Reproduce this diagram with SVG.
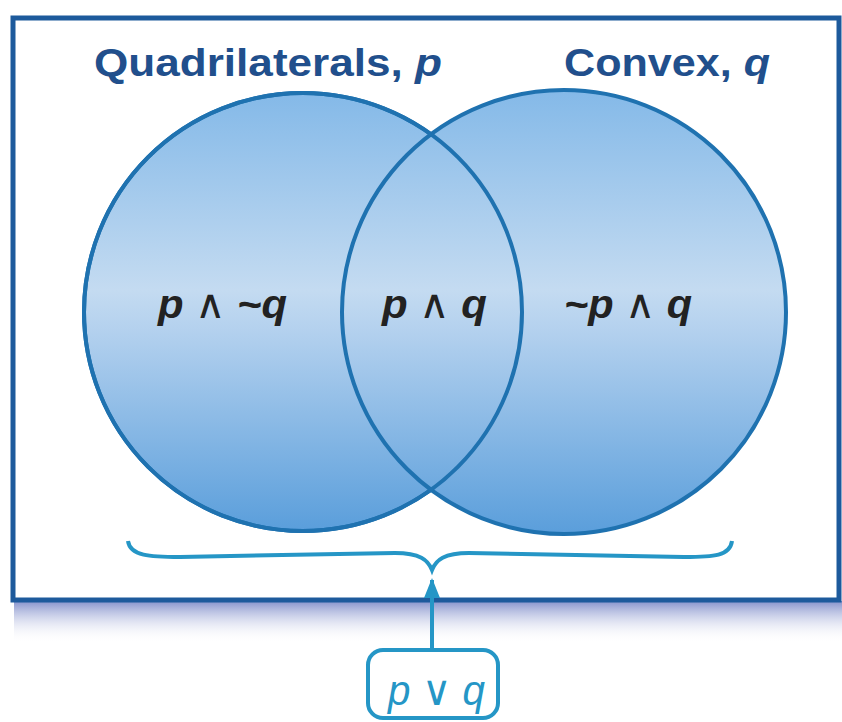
<svg xmlns="http://www.w3.org/2000/svg" width="842" height="722" viewBox="0 0 842 722">
<defs>
<linearGradient id="fillg" x1="0" y1="0" x2="0" y2="1" gradientUnits="objectBoundingBox">
<stop offset="0" stop-color="#84b9e8"/>
<stop offset="0.45" stop-color="#c4dbf1"/>
<stop offset="0.55" stop-color="#b2d0ee"/>
<stop offset="1" stop-color="#5a9edb"/>
</linearGradient>
<linearGradient id="shadow" x1="0" y1="0" x2="0" y2="1">
<stop offset="0" stop-color="#8592cc"/>
<stop offset="1" stop-color="#ffffff" stop-opacity="0"/>
</linearGradient>
<marker id="arrow" viewBox="0 0 10 10" refX="9" refY="5" markerWidth="5" markerHeight="5" orient="auto">
<path d="M0,1 L10,5 L0,9 z" fill="#2596c6"/>
</marker>
<style>
.circ{fill:url(#fillg);stroke:#1f72b0;stroke-width:4}
.title{font-family:"Liberation Sans",Arial,sans-serif;font-weight:bold;font-size:38px;fill:#214f8c}
.region{font-family:"Liberation Sans",Arial,sans-serif;font-weight:bold;font-style:italic;font-size:40px;fill:#222}
.op{font-weight:normal;font-style:normal}
.conn{fill:none;stroke:#2596c6;stroke-width:4}
</style>
</defs>
<rect width="842" height="722" fill="#ffffff"/>
<rect x="14" y="601" width="828" height="42" fill="url(#shadow)"/>
<rect id="frame" x="13" y="18" width="826" height="582" fill="#ffffff" stroke="#1d5a9c" stroke-width="5"/>
<g id="circle-p"><circle cx="303" cy="312" r="219" class="circ"/></g>
<g id="circle-q"><circle cx="564" cy="312" r="222" class="circ"/></g>
<g id="lens"><circle cx="303" cy="312" r="219" fill="none" stroke="#1f72b0" stroke-width="4"/></g>
<text class="title" x="94" y="76" textLength="348" lengthAdjust="spacingAndGlyphs">Quadrilaterals, <tspan font-style="italic">p</tspan></text>
<text class="title" x="564" y="76" textLength="206" lengthAdjust="spacingAndGlyphs">Convex, <tspan font-style="italic">q</tspan></text>
<g id="r1"><text class="region" x="158" y="318" textLength="129" lengthAdjust="spacingAndGlyphs">p <tspan class="op">∧</tspan> ~q</text></g>
<g id="r2"><text class="region" x="382" y="318" textLength="105" lengthAdjust="spacingAndGlyphs">p <tspan class="op">∧</tspan> q</text></g>
<g id="r3"><text class="region" x="564" y="318" textLength="128" lengthAdjust="spacingAndGlyphs">~p <tspan class="op">∧</tspan> q</text></g>
<g id="connectors">
<path class="conn" d="M128,541 C130,556 150,557 180,557 L395,553 C420,553 428,560 432,570 C436,560 444,553 469,553 L684,557 C714,557 730,556 732,541"/>
<line class="conn" x1="432" y1="648" x2="432" y2="580" marker-end="url(#arrow)"/>
</g>
<g id="box">
<rect x="368" y="650" width="130" height="68" rx="15" fill="#ffffff" stroke="#2596c6" stroke-width="4"/>
<text x="388" y="705" textLength="97" lengthAdjust="spacingAndGlyphs" font-family="Liberation Sans, sans-serif" font-style="italic" font-size="42" fill="#2596c6">p <tspan font-style="normal">∨</tspan> q</text>
</g>
</svg>
